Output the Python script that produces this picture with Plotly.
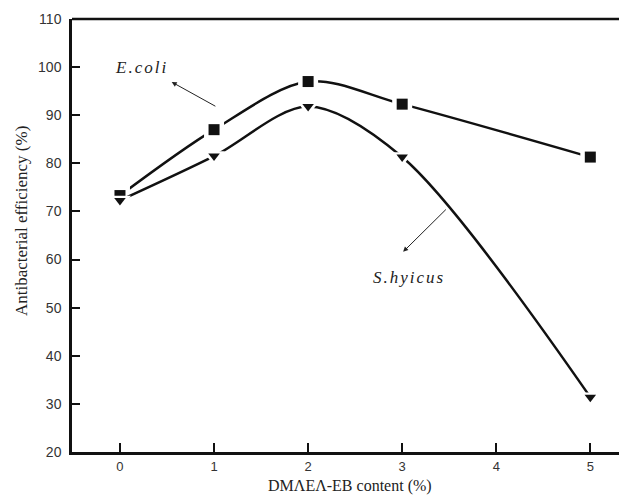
import plotly.graph_objects as go

x_vals = [0, 1, 2, 3, 5]
ecoli = [73.3, 87.0, 97.0, 92.3, 81.3]
shyicus = [72.3, 81.5, 91.8, 81.3, 31.4]
x_ticks = [0, 1, 2, 3, 4, 5]
y_ticks = [20, 30, 40, 50, 60, 70, 80, 90, 100, 110]

fig = go.Figure()
for ys, sym, sz in [(ecoli, "square", 11), (shyicus, "triangle-down", 10)]:
    fig.add_trace(go.Scatter(x=x_vals, y=ys, mode="lines",
                             line=dict(color="#111111", width=2.5, shape="spline", smoothing=0.9),
                             hoverinfo="skip", showlegend=False))
    fig.add_trace(go.Scatter(x=x_vals, y=ys, mode="markers",
                             marker=dict(symbol=sym, size=sz + 9, color="white"),
                             hoverinfo="skip", showlegend=False))
    fig.add_trace(go.Scatter(x=x_vals, y=ys, mode="markers",
                             marker=dict(symbol=sym, size=sz, color="#111111"),
                             showlegend=False))

# arrows (head at x,y; tail at ax,ay in data coords)
fig.add_annotation(x=0.55, y=96.9, ax=1.03, ay=91.7, axref="x", ayref="y",
                   xref="x", yref="y", text="", showarrow=True,
                   arrowhead=2, arrowsize=1, arrowwidth=1, arrowcolor="#222")
fig.add_annotation(x=3.01, y=61.6, ax=3.48, ay=70.7, axref="x", ayref="y",
                   xref="x", yref="y", text="", showarrow=True,
                   arrowhead=2, arrowsize=1, arrowwidth=1, arrowcolor="#222")
fig.add_annotation(x=0.23, y=100.0, text='<i><span style="letter-spacing:2px">E.coli</span></i>',
                   showarrow=False,
                   font=dict(family="Liberation Serif", size=17, color="#222"))
fig.add_annotation(x=3.07, y=56.3, text='<i><span style="letter-spacing:2px">S.hyicus</span></i>',
                   showarrow=False,
                   font=dict(family="Liberation Serif", size=17, color="#222"))

# axis titles
fig.add_annotation(xref="paper", yref="y", x=0, y=68.0, xshift=-51, textangle=-90,
                   xanchor="center", yanchor="middle",
                   text="Antibacterial efficiency (%)", showarrow=False,
                   font=dict(family="Liberation Serif", size=17, color="#222"))
fig.add_annotation(xref="paper", yref="paper", x=0.5, y=0, yshift=-34,
                   xanchor="center", yanchor="middle",
                   text="DMΛEΛ-EB content (%)", showarrow=False,
                   font=dict(family="Liberation Serif", size=16, color="#222"))

fig.add_shape(type="line", xref="paper", yref="paper", x0=0, x1=1, y0=1, y1=1,
              line=dict(color="#111111", width=2.5))

# page body has an 8px margin: figure drawn at (8, 8)
fig.update_layout(
    width=619, height=487,
    margin=dict(l=64, r=0, t=11, b=43),
    paper_bgcolor="white", plot_bgcolor="white",
    xaxis=dict(range=[-0.51, 5.39], tickvals=x_ticks, ticks="inside", ticklen=9, tickwidth=2,
               tickcolor="#111", showline=True, linecolor="#111", linewidth=2.5,
               showgrid=False, zeroline=False, ticklabelstandoff=1,
               tickfont=dict(family="Liberation Sans", size=13, color="#333")),
    yaxis=dict(range=[20, 110], tickvals=y_ticks, ticks="inside", ticklen=8, tickwidth=2,
               tickcolor="#111", showline=True, linecolor="#111", linewidth=2.5,
               showgrid=False, zeroline=False, ticklabelstandoff=5,
               tickfont=dict(family="Liberation Sans", size=14, color="#333")),
)

fig.write_html("out.html")
